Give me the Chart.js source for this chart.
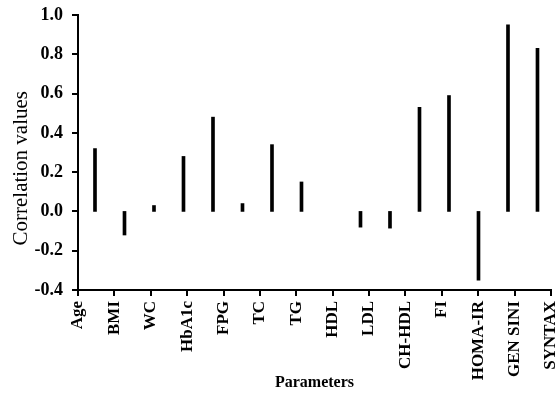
<!DOCTYPE html>
<html>
<head>
<meta charset="utf-8">
<script src="https://cdn.jsdelivr.net/npm/chart.js@4/dist/chart.umd.min.js"></script>
<style>
  html, body { margin: 0; padding: 0; background: #fff; }
  #wrap { width: 558px; height: 394px; position: relative; }
</style>
</head>
<body>
<div id="wrap"><canvas id="grafico"></canvas></div>
<script>
// parametros mostrados no eixo x
const PARAMETROS = ["Age", "BMI", "WC", "HbA1c", "FPG", "TC", "TG", "HDL", "LDL", "CH-HDL", "FI", "HOMA-IR", "GEN SINI", "SYNTAX"];
// posicoes das barras (16 posicoes, uma vazia)
const POSICOES = [0, 1, 2, 3, 4, 5, 6, 7, 8, 9, 10, 11, 12, 13, 14, 15];
const CORRELACOES = [0.32, -0.12, 0.03, 0.28, 0.48, 0.04, 0.34, 0.15, null, -0.08, -0.085, 0.53, 0.59, -0.35, 0.95, 0.83];
const Y_MIN = -0.4, Y_MAX = 1.0, Y_PASSO = 0.2;

const FONTE = "'Liberation Serif', 'Times New Roman', serif";
const TAM_MARCA = 6;

// tracinhos dos eixos, nas posicoes dos ticks das escalas
const marcasEixo = {
  id: "marcasEixo",
  afterDraw(chart) {
    const ctx = chart.ctx;
    const area = chart.chartArea;
    const sx = chart.scales.x;
    const sy = chart.scales.y;
    ctx.save();
    ctx.fillStyle = "#000";
    sx.ticks.forEach((t, i) => {
      const px = Math.round(sx.getPixelForTick(i));
      ctx.fillRect(px - 1, area.bottom, 2, TAM_MARCA);
    });
    sy.ticks.forEach((t) => {
      const py = Math.round(sy.getPixelForValue(t.value));
      ctx.fillRect(area.left - TAM_MARCA, py - 1, TAM_MARCA, 2);
    });
    ctx.restore();
  },
};

new Chart(document.getElementById("grafico"), {
  type: "bar",
  data: {
    labels: PARAMETROS,
    datasets: [{
      label: "Correlation",
      data: POSICOES.map((p, i) => ({ x: p, y: CORRELACOES[i] })),
      backgroundColor: "#000",
      borderWidth: 0,
      barThickness: 3,
      xAxisID: "xb",
      yAxisID: "y",
    }],
  },
  plugins: [marcasEixo],
  options: {
    responsive: true,
    maintainAspectRatio: false,
    animation: false,
    layout: { padding: { top: 15, right: 7, bottom: 0, left: 0 } },
    plugins: { legend: { display: false }, tooltip: { enabled: false } },
    scales: {
      xb: {
        type: "linear",
        display: false,
        offset: false,
        min: -0.576,
        max: 15.458,
      },
      x: {
        type: "category",
        offset: false,
        border: { display: true, color: "#000", width: 2 },
        grid: { display: true, drawOnChartArea: false, drawTicks: true, tickLength: TAM_MARCA, color: "#000", lineWidth: 2, offset: false },
        ticks: {
          color: "#000",
          font: { family: FONTE, size: 17, weight: "bold" },
          minRotation: 90,
          maxRotation: 90,
          autoSkip: false,
          padding: 5,
        },
        title: {
          display: true,
          text: "Parameters",
          color: "#000",
          font: { family: FONTE, size: 16, weight: "bold" },
          padding: { top: 0, bottom: 2 },
        },
        afterFit(scale) {
          scale.height = 104;
          scale.paddingLeft = 0;
          scale.paddingRight = 0;
        },
      },
      y: {
        min: Y_MIN,
        max: Y_MAX,
        border: { display: true, color: "#000", width: 2 },
        grid: { display: true, drawOnChartArea: false, drawTicks: true, tickLength: TAM_MARCA, color: "#000", lineWidth: 2 },
        ticks: {
          stepSize: Y_PASSO,
          color: "#000",
          font: { family: FONTE, size: 18, weight: "bold" },
          padding: 9,
          callback: (v) => (Math.abs(v) < 1e-9 ? 0 : Number(v)).toFixed(1),
        },
        title: {
          display: true,
          text: "Correlation values      ",
          color: "#000",
          font: { family: FONTE, size: 21, weight: "normal" },
          padding: { top: 9, bottom: 0 },
        },
        afterFit(scale) {
          scale.width = 78;
          scale.paddingTop = 0;
          scale.paddingBottom = 0;
        },
      },
    },
  },
});
</script>
</body>
</html>
